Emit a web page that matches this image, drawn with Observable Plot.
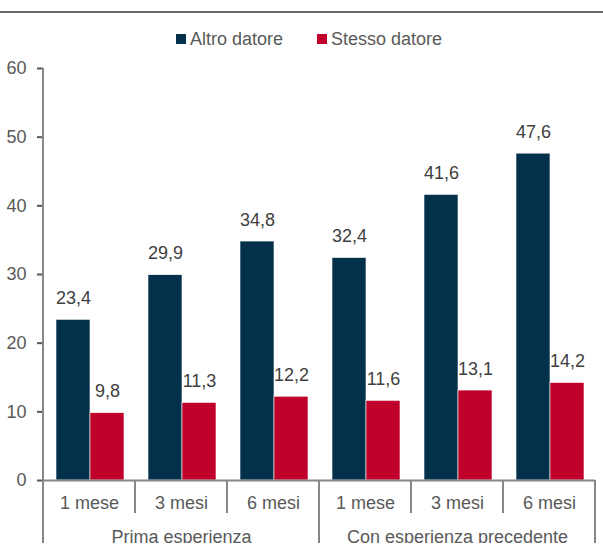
<!DOCTYPE html>
<html>
<head>
<meta charset="utf-8">
<script src="https://cdn.jsdelivr.net/npm/d3@7"></script>
<script src="https://cdn.jsdelivr.net/npm/@observablehq/plot@0.6"></script>
<style>
  html, body { margin: 0; padding: 0; background: #fff; }
  #wrap { position: relative; width: 603px; height: 550px; overflow: hidden; font-family: "Liberation Sans", Arial, sans-serif; }
  #topline { position: absolute; left: 0; top: 11px; width: 603px; height: 2px; background: #6b6b6b; }
  .legend-item { position: absolute; top: 30px; display: flex; align-items: center; font-size: 18px; color: #595959; line-height: 18px; }
  .swatch { width: 10px; height: 10px; margin-right: 4px; }
  #chart { position: absolute; left: 0; top: 55px; }
  g[aria-label="y-axis tick"] { stroke: #868686; stroke-width: 2px; }
</style>
</head>
<body>
<div id="wrap">
  <div id="topline"></div>
  <div id="legend"></div>
  <div id="chart"></div>
</div>
<script>
const groups = ["Prima esperienza", "Con esperienza precedente"];
const periods = ["1 mese", "3 mesi", "6 mesi"];
const series = ["Altro datore", "Stesso datore"];
const altro = [23.4, 29.9, 34.8, 32.4, 41.6, 47.6];
const stesso = [9.8, 11.3, 12.2, 11.6, 13.1, 14.2];
const yTicks = [0, 10, 20, 30, 40, 50, 60];
const colors = ["#03304a", "#c0002a"];

const cats = groups.flatMap(g => periods.map(p => ({group: g, period: p, key: g + " – " + p})));
const rows = cats.flatMap((c, i) => [
  {...c, series: series[0], value: altro[i]},
  {...c, series: series[1], value: stesso[i]}
]);
const fmt = v => v.toFixed(1).replace(".", ",");

// legend
const legendLefts = [176, 317];
const legend = document.getElementById("legend");
series.forEach((s, i) => {
  const item = document.createElement("div");
  item.className = "legend-item";
  item.style.left = legendLefts[i] + "px";
  const sw = document.createElement("span");
  sw.className = "swatch";
  sw.style.background = colors[i];
  const tx = document.createElement("span");
  tx.textContent = s;
  item.append(sw, tx);
  legend.append(item);
});

const plot = Plot.plot({
  width: 603,
  height: 488,
  marginTop: 13,
  marginBottom: 63,
  marginLeft: 42,
  marginRight: 8,
  style: {
    fontFamily: "'Liberation Sans', Arial, sans-serif",
    fontSize: "18px",
    color: "#595959",
    background: "white",
    overflow: "hidden"
  },
  fx: {domain: cats.map(d => d.key), padding: 0, axis: null, label: null},
  x: {domain: series, paddingInner: 0, paddingOuter: 0.35, align: 0.55, axis: null, label: null},
  y: {domain: [0, 60], ticks: yTicks, tickSize: 6, tickPadding: 11, label: null},
  color: {domain: series, range: colors},
  marks: [
    Plot.barY(rows, {fx: "key", x: "series", y: "value", fill: "series", stroke: "white", strokeWidth: 0.6}),
    Plot.text(rows, {fx: "key", x: "series", y: "value", text: d => fmt(d.value), dy: -16, lineAnchor: "bottom", fill: "#404040"}),
    Plot.ruleY([0], {stroke: "#868686", strokeWidth: 2}),
    Plot.text(cats, {fx: "key", text: "period", frameAnchor: "bottom", dy: 23, lineAnchor: "middle"}),
    Plot.text(cats.filter(d => d.period === periods[1]), {fx: "key", text: "group", frameAnchor: "bottom", dy: 57, lineAnchor: "middle"})
  ]
});
document.getElementById("chart").append(plot);

// two-level category dividers and y-axis spine, placed via the plot's own scales
const fxS = plot.scale("fx");
const yS = plot.scale("y");
const svg = d3.select(plot);
const y0 = yS.apply(0);
const yTop = yS.apply(yTicks[yTicks.length - 1]);
const bottom = 488;
const lines = [];
lines.push({x: fxS.apply(cats[0].key), y1: yTop, y2: y0});
cats.forEach((c, i) => {
  const x = fxS.apply(c.key);
  const isGroupStart = c.period === periods[0];
  lines.push({x, y1: y0, y2: isGroupStart ? bottom : y0 + 33});
});
const last = cats[cats.length - 1].key;
lines.push({x: fxS.apply(last) + fxS.bandwidth, y1: y0, y2: bottom});
svg.append("g").attr("stroke", "#868686").attr("stroke-width", 2)
  .selectAll("line").data(lines).join("line")
  .attr("x1", d => d.x).attr("x2", d => d.x)
  .attr("y1", d => d.y1).attr("y2", d => d.y2);
</script>
</body>
</html>
